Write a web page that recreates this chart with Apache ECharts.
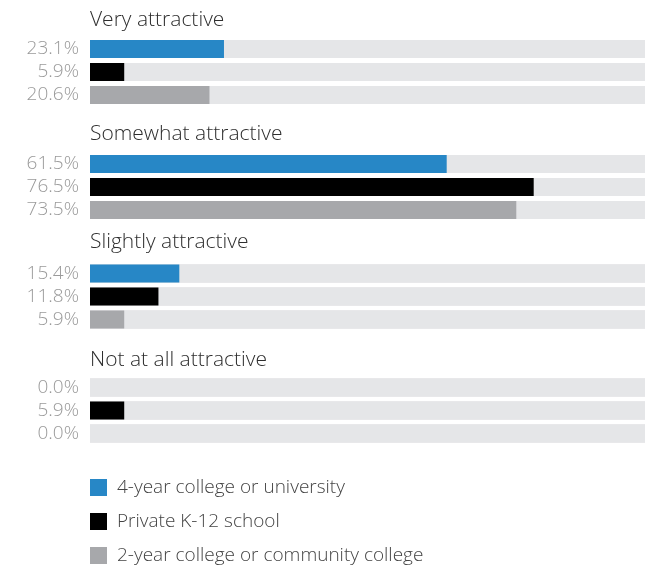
<!DOCTYPE html>
<html>
<head>
<meta charset="utf-8">
<script src="https://cdn.jsdelivr.net/npm/echarts@6/dist/echarts.min.js"></script>
<style>html,body{margin:0;padding:0;background:#fff}#c{width:645px;height:567px}</style>
</head>
<body>
<div id="c"></div>
<script>
var groups = ['Very attractive', 'Somewhat attractive', 'Slightly attractive', 'Not at all attractive'];
var seriesNames = ['4-year college or university', 'Private K-12 school', '2-year college or community college'];
var fourYear = [23.1, 61.5, 15.4, 0.0];
var privateK12 = [5.9, 76.5, 11.8, 5.9];
var twoYear = [20.6, 73.5, 5.9, 0.0];

var values = [fourYear, privateK12, twoYear];
var colors = ['#2787c6', '#000000', '#a7a8ab'];
var gridTops = [37.5, 152.5, 262, 376];
var titleTops = [5, 119, 227, 345];
var FONT = '"Open Sans", sans-serif';

var grids = [], xAxes = [], yAxes = [], series = [], titles = [];
groups.forEach(function (g, gi) {
  grids.push({ left: 90, width: 580, top: gridTops[gi], height: 69, containLabel: false, outerBoundsMode: 'none' });
  xAxes.push({ type: 'value', gridIndex: gi, min: 0, max: 100, show: false });
  yAxes.push({ type: 'category', gridIndex: gi, inverse: true, data: seriesNames, show: false });
  titles.push({ text: g, left: 85, top: titleTops[gi], textStyle: { fontFamily: FONT, fontSize: 21, fontWeight: 300, color: '#2e2e2e' } });
  seriesNames.forEach(function (s, si) {
    var data = seriesNames.map(function (_, k) { return k === si ? values[si][gi] : '-'; });
    series.push({
      type: 'bar', name: s, xAxisIndex: gi, yAxisIndex: gi, stack: 'g' + gi,
      barWidth: 18, data: data,
      itemStyle: { color: colors[si] },
      showBackground: true,
      backgroundStyle: { color: '#e5e6e8' },
      label: {
        show: true, position: 'left', distance: 11,
        fontFamily: FONT, fontSize: 19, fontWeight: 300, color: '#9a9a9a',
        formatter: function (p) { return Number(p.value).toFixed(1) + '%'; }
      },
      emphasis: { disabled: true },
      animation: false
    });
  });
});

var chart = echarts.init(document.getElementById('c'));
chart.setOption({
  animation: false,
  title: titles,
  grid: grids,
  xAxis: xAxes,
  yAxis: yAxes,
  legend: {
    orient: 'vertical', left: 90, top: 478, height: 120, padding: 0,
    data: seriesNames,
    itemWidth: 17, itemHeight: 17, itemGap: 15,
    icon: 'rect',
    selectedMode: false,
    textStyle: { fontFamily: FONT, fontSize: 19, fontWeight: 300, color: '#444', padding: [0, 0, 0, 5] }
  },
  series: series
});
</script>
</body>
</html>
